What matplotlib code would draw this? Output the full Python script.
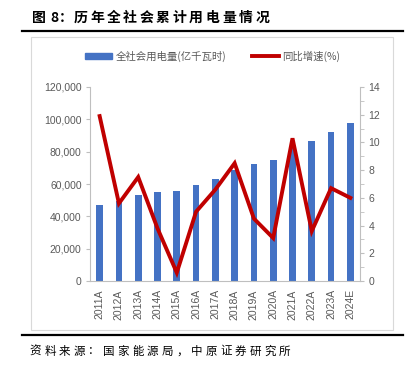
import numpy as np
import matplotlib.pyplot as plt
from matplotlib.patches import Rectangle
from matplotlib.lines import Line2D

# data
years = ['2011A', '2012A', '2013A', '2014A', '2015A', '2016A', '2017A',
         '2018A', '2019A', '2020A', '2021A', '2022A', '2023A', '2024E']
consumption = [46928, 49591, 53223, 55233, 55500, 59198, 63077,
               68449, 72255, 75110, 83128, 86372, 92241, 98000]
growth = [11.9, 5.6, 7.5, 3.8, 0.6, 5.0, 6.6, 8.5, 4.5, 3.1, 10.3, 3.6, 6.7, 6.0]
title_head = ['图', '8', '：']
title_body = '历年全社会累计用电量情况'
source = '资料来源：国家能源局，中原证券研究所'

W, H = 409, 366
cjk = ['Noto Sans CJK SC', 'DejaVu Sans']
num_font = ['Liberation Sans', 'DejaVu Sans']
gray = '#595959'

fig = plt.figure(figsize=(W / 100, H / 100), dpi=100)

# title, spaced out character by character
for ch, cx in zip(title_head, [39, 54, 66]):
    fig.text(cx / W, 1 - 18 / H, ch, family=cjk, fontsize=10, fontweight='bold',
             va='center', ha='center')
for i, ch in enumerate(title_body):
    fig.text((80.5 + i * 16.5) / W, 1 - 18 / H, ch, family=cjk, fontsize=10,
             fontweight='bold', va='center', ha='center')

# source line, spaced out
for i, ch in enumerate(source):
    fig.text((35.3 + i * 14.67) / W, 1 - 351 / H, ch, family=cjk, fontsize=8.3,
             va='center', ha='center')

fig.add_artist(Line2D([22 / W, 403 / W], [1 - 31 / H, 1 - 31 / H], color='black', lw=1.6))
fig.add_artist(Line2D([22 / W, 403 / W], [1 - 335 / H, 1 - 335 / H], color='black', lw=1.6))
fig.add_artist(Rectangle((31 / W, 1 - 330 / H), (393 - 31) / W, (330 - 37) / H,
                         transform=fig.transFigure, fill=False, ec='#D9D9D9', lw=0.8))

# axes
ax = fig.add_axes([90 / W, 1 - 281 / H, (360 - 90) / W, (281 - 87) / H])
x = np.arange(len(years))
ax.bar(x, consumption, width=0.35, color='#4472C4', zorder=2)
ax.set_xlim(-0.5, len(years) - 0.5)
ax.set_ylim(0, 120000)
ax.set_yticks(np.arange(0, 120001, 20000))
ax.set_yticklabels(['{:,}'.format(v) for v in range(0, 120001, 20000)],
                   family=num_font, fontsize=7.5, color=gray)
ax.set_xticks(x)
ax.set_xticklabels(years, rotation=90, family=num_font, fontsize=7.5, color=gray)
ax.tick_params(axis='x', length=0, pad=6)
ax.tick_params(axis='y', length=3, color='#BFBFBF', pad=3)
for s in ['top', 'right']:
    ax.spines[s].set_visible(False)
for s in ['left', 'bottom']:
    ax.spines[s].set_color('#BFBFBF')
    ax.spines[s].set_linewidth(0.8)

ax2 = ax.twinx()
ax2.plot(x, growth, color='#C00000', lw=2.8, solid_joinstyle='miter')
ax2.set_ylim(0, 14)
ax2.set_yticks(np.arange(0, 15, 2))
ax2.set_yticks(np.arange(0, 15, 1), minor=True)
ax2.set_yticklabels([str(v) for v in range(0, 15, 2)], family=num_font,
                    fontsize=7.5, color=gray)
ax2.tick_params(axis='y', which='both', length=3, color='#BFBFBF', pad=3)
for s in ['top', 'left', 'bottom']:
    ax2.spines[s].set_visible(False)
ax2.spines['right'].set_color('#BFBFBF')
ax2.spines['right'].set_linewidth(0.8)

handles = [Rectangle((0, 0), 1, 1, color='#4472C4'),
           Line2D([0], [0], color='#C00000', lw=2.8)]
fig.legend(handles, ['全社会用电量(亿千瓦时)', '同比增速(%)'], loc='center',
           bbox_to_anchor=(213 / W, 1 - 56 / H), ncol=2, frameon=False,
           prop={'family': cjk, 'size': 7.5}, labelcolor=gray,
           handlelength=2.6, handleheight=0.5, columnspacing=2.5, handletextpad=0.3)

fig.savefig('out.png', dpi=100)
